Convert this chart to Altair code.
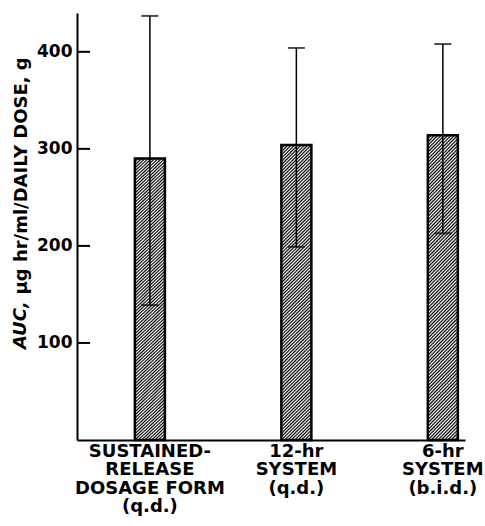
import altair as alt
import pandas as pd

# ---- data ----
categories = [
    "SUSTAINED-|RELEASE|DOSAGE FORM|(q.d.)",
    "12-hr|SYSTEM|(q.d.)",
    "6-hr|SYSTEM|(b.i.d.)",
]
means = [290, 304, 314]
upper = [437, 404, 408]
lower = [139, 199, 213]
y_ticks = [100, 200, 300, 400]

TITLE_ITALIC = "AUC,"
TITLE_REST = "\u03bcg hr/ml/DAILY DOSE, g"
FONT = "DejaVu Sans"

df = pd.DataFrame({"cat": categories, "mean": means, "hi": upper, "lo": lower})
tick_df = pd.DataFrame({"v": y_ticks})
title_df = pd.DataFrame({"t": [TITLE_ITALIC]})

# diagonal hatch made from a smooth striped linear gradient (triangle wave)
stops = []
n = 100
for i in range(n):
    s = round(i / n, 5)
    m = round((i + 0.5) / n, 5)
    stops += [
        {"offset": s, "color": "#000000"},
        {"offset": m, "color": "#ffffff"},
    ]
stops.append({"offset": 1, "color": "#000000"})
hatch = {"gradient": "linear", "x1": 0, "y1": 0, "x2": 0.11, "y2": 1.1, "stops": stops}

xscale = alt.Scale(domain=categories, paddingInner=0.795, paddingOuter=0.222, align=0.89)
yscale = alt.Scale(domain=[0, 440], nice=False, zero=True)

xenc = alt.X(
    "cat:N",
    scale=xscale,
    sort=categories,
    title=None,
    axis=alt.Axis(
        labelExpr="split(datum.label, '|')",
        labelAngle=0,
        labelFont=FONT,
        labelFontWeight="bold",
        labelFontSize=18,
        labelLineHeight=18.5,
        labelBaseline="top",
        labelPadding=2,
        labelColor="black",
        ticks=False,
        tickSize=0,
        domainColor="black",
        domainWidth=2,
    ),
)

yaxis = alt.Axis(
    values=y_ticks,
    ticks=False,
    tickSize=0,
    grid=False,
    labelPadding=5,
    labelFont=FONT,
    labelFontWeight="bold",
    labelFontSize=17,
    labelColor="black",
    domainColor="black",
    domainWidth=2,
    titleFont=FONT,
    titleFontWeight="bold",
    titleFontSize=18,
    titleColor="black",
    titleAngle=270,
    titleAlign="left",
    titleBaseline="alphabetic",
    titleX=-51,
    titleY=281,
)

base = alt.Chart(df)

bars = base.mark_bar(fill=hatch, stroke="black", strokeWidth=2.5).encode(
    x=xenc, y=alt.Y("mean:Q", scale=yscale, axis=yaxis, title=TITLE_REST)
)
err = base.mark_rule(color="black", strokeWidth=1.5).encode(
    x=xenc, y=alt.Y("lo:Q", scale=yscale, axis=yaxis, title=TITLE_REST), y2="hi:Q"
)
cap_hi = base.mark_tick(color="black", size=17, thickness=2, orient="horizontal").encode(
    x=xenc, y=alt.Y("hi:Q", scale=yscale, axis=yaxis, title=TITLE_REST)
)
cap_lo = base.mark_tick(color="black", size=17, thickness=2, orient="horizontal").encode(
    x=xenc, y=alt.Y("lo:Q", scale=yscale, axis=yaxis, title=TITLE_REST)
)
inner_ticks = alt.Chart(tick_df).mark_rule(color="black", strokeWidth=2).encode(
    y=alt.Y("v:Q", scale=yscale, axis=yaxis, title=TITLE_REST),
    x=alt.value(0),
    x2=alt.value(13),
)
title_italic = alt.Chart(title_df).mark_text(
    font=FONT,
    fontWeight="bold",
    fontStyle="oblique",
    fontSize=18,
    angle=270,
    align="left",
    baseline="alphabetic",
    color="black",
).encode(text="t:N", x=alt.value(-51), y=alt.value(336))

chart = (
    alt.layer(bars, err, cap_hi, cap_lo, inner_ticks, title_italic)
    .properties(
        width=388,
        height=427,
        padding={"left": 77, "top": 13, "right": 20, "bottom": 86},
        autosize=alt.AutoSizeParams(type="none"),
        background="white",
    )
    .configure_view(stroke=None)
)

chart.save("out.html", embed_options={"renderer": "svg", "actions": False})
